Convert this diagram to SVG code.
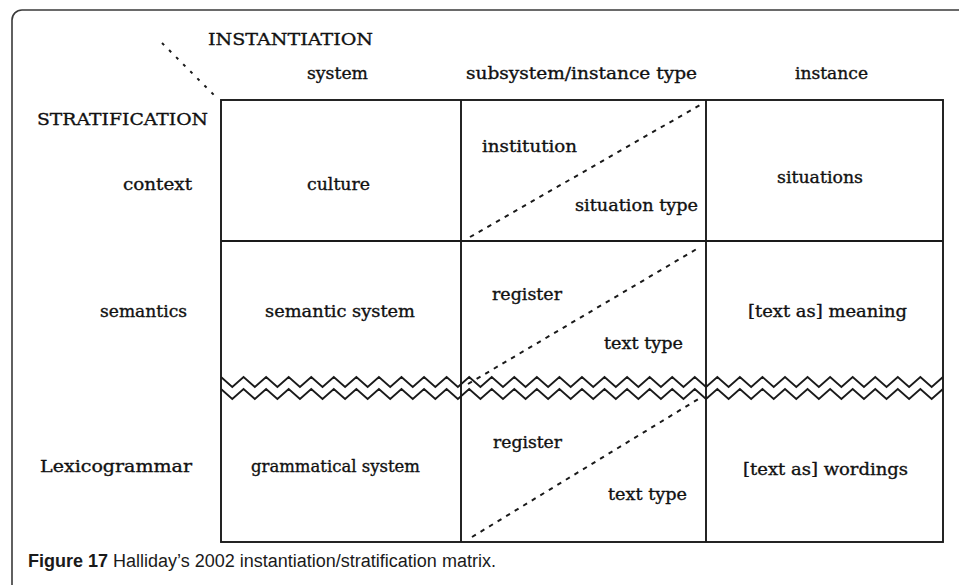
<svg xmlns="http://www.w3.org/2000/svg" width="959" height="585" viewBox="0 0 959 585">
  <style>
    .lbl { font-family: "DejaVu Serif", "Liberation Serif", serif; font-size: 17px; fill: #111; stroke: #111; stroke-width: 0.35; }
    .cap { font-size: 17.5px; }
    .grid { fill: none; stroke: #1a1a1a; stroke-width: 1.9; }
    .zig { fill: none; stroke: #1a1a1a; stroke-width: 1.8; stroke-linejoin: miter; }
    .dash { fill: none; stroke: #1a1a1a; stroke-width: 2; stroke-dasharray: 4.5 5.5; }
    .dots { fill: none; stroke: #1a1a1a; stroke-width: 2; stroke-dasharray: 3 7; }
    .caption { font-family: "Liberation Sans", Arial, sans-serif; font-size: 18px; fill: #1a1a1a; }
  </style>
  <defs>
    <clipPath id="matrixClip">
      <rect x="221" y="360" width="722" height="60"/>
    </clipPath>
  </defs>

  <!-- outer figure frame, running past the right and bottom edges -->
  <rect x="12" y="10" width="990" height="620" rx="10" ry="10" fill="#ffffff" stroke="#3a3a3a" stroke-width="1.6"/>

  <!-- matrix grid and boundaries -->
  <g id="connectors">
    <rect class="grid" x="221" y="100" width="722" height="442"/>
    <line class="grid" x1="461" y1="100" x2="461" y2="542"/>
    <line class="grid" x1="706" y1="100" x2="706" y2="542"/>
    <line class="grid" x1="221" y1="241" x2="943" y2="241"/>
    <!-- double zigzag between semantics and lexicogrammar -->
    <g clip-path="url(#matrixClip)">
      <path class="zig" d="M221,377 l11.28,10 l11.28,-10 l11.28,10 l11.28,-10 l11.28,10 l11.28,-10 l11.28,10 l11.28,-10 l11.28,10 l11.28,-10 l11.28,10 l11.28,-10 l11.28,10 l11.28,-10 l11.28,10 l11.28,-10 l11.28,10 l11.28,-10 l11.28,10 l11.28,-10 l11.28,10 l11.28,-10 l11.28,10 l11.28,-10 l11.28,10 l11.28,-10 l11.28,10 l11.28,-10 l11.28,10 l11.28,-10 l11.28,10 l11.28,-10 l11.28,10 l11.28,-10 l11.28,10 l11.28,-10 l11.28,10 l11.28,-10 l11.28,10 l11.28,-10 l11.28,10 l11.28,-10 l11.28,10 l11.28,-10 l11.28,10 l11.28,-10 l11.28,10 l11.28,-10 l11.28,10 l11.28,-10 l11.28,10 l11.28,-10 l11.28,10 l11.28,-10 l11.28,10 l11.28,-10 l11.28,10 l11.28,-10 l11.28,10 l11.28,-10 l11.28,10 l11.28,-10 l11.28,10 l11.28,-10"/>
      <path class="zig" d="M221,389 l11.28,10 l11.28,-10 l11.28,10 l11.28,-10 l11.28,10 l11.28,-10 l11.28,10 l11.28,-10 l11.28,10 l11.28,-10 l11.28,10 l11.28,-10 l11.28,10 l11.28,-10 l11.28,10 l11.28,-10 l11.28,10 l11.28,-10 l11.28,10 l11.28,-10 l11.28,10 l11.28,-10 l11.28,10 l11.28,-10 l11.28,10 l11.28,-10 l11.28,10 l11.28,-10 l11.28,10 l11.28,-10 l11.28,10 l11.28,-10 l11.28,10 l11.28,-10 l11.28,10 l11.28,-10 l11.28,10 l11.28,-10 l11.28,10 l11.28,-10 l11.28,10 l11.28,-10 l11.28,10 l11.28,-10 l11.28,10 l11.28,-10 l11.28,10 l11.28,-10 l11.28,10 l11.28,-10 l11.28,10 l11.28,-10 l11.28,10 l11.28,-10 l11.28,10 l11.28,-10 l11.28,10 l11.28,-10 l11.28,10 l11.28,-10 l11.28,10 l11.28,-10 l11.28,10 l11.28,-10"/>
    </g>
    <!-- dashed diagonals splitting the middle column -->
    <line class="dash" x1="470" y1="237" x2="700" y2="105"/>
    <line class="dash" x1="468" y1="384" x2="700" y2="247"/>
    <line class="dash" x1="472" y1="537" x2="700" y2="398"/>
    <!-- dotted corner line between the two axes -->
    <line class="dots" x1="162" y1="43" x2="216" y2="97"/>
  </g>

  <!-- axis titles -->
  <g id="axis-instantiation">
    <text class="lbl cap" x="208" y="45" textLength="165" lengthAdjust="spacingAndGlyphs">INSTANTIATION</text>
  </g>
  <g id="axis-stratification">
    <text class="lbl cap" x="37" y="125" textLength="171" lengthAdjust="spacingAndGlyphs">STRATIFICATION</text>
  </g>

  <!-- column headers -->
  <g id="col-system"><text class="lbl" x="307" y="79" textLength="61" lengthAdjust="spacingAndGlyphs">system</text></g>
  <g id="col-subsystem"><text class="lbl" x="466" y="79" textLength="231" lengthAdjust="spacingAndGlyphs">subsystem/instance type</text></g>
  <g id="col-instance"><text class="lbl" x="795" y="79" textLength="73" lengthAdjust="spacingAndGlyphs">instance</text></g>

  <!-- row headers -->
  <g id="row-context"><text class="lbl" x="123" y="190" textLength="69" lengthAdjust="spacingAndGlyphs">context</text></g>
  <g id="row-semantics"><text class="lbl" x="100" y="317" textLength="87" lengthAdjust="spacingAndGlyphs">semantics</text></g>
  <g id="row-lexicogrammar"><text class="lbl" x="40" y="472" textLength="152" lengthAdjust="spacingAndGlyphs">Lexicogrammar</text></g>

  <!-- context row -->
  <g id="cell-culture"><text class="lbl" x="307" y="190" textLength="63" lengthAdjust="spacingAndGlyphs">culture</text></g>
  <g id="cell-institution"><text class="lbl" x="482" y="152" textLength="95" lengthAdjust="spacingAndGlyphs">institution</text></g>
  <g id="cell-situation-type"><text class="lbl" x="575" y="211" textLength="123" lengthAdjust="spacingAndGlyphs">situation type</text></g>
  <g id="cell-situations"><text class="lbl" x="777" y="183" textLength="86" lengthAdjust="spacingAndGlyphs">situations</text></g>

  <!-- semantics row -->
  <g id="cell-semantic-system"><text class="lbl" x="265" y="317" textLength="150" lengthAdjust="spacingAndGlyphs">semantic system</text></g>
  <g id="cell-register-sem"><text class="lbl" x="492" y="300" textLength="70" lengthAdjust="spacingAndGlyphs">register</text></g>
  <g id="cell-text-type-sem"><text class="lbl" x="604" y="349" textLength="79" lengthAdjust="spacingAndGlyphs">text type</text></g>
  <g id="cell-meaning"><text class="lbl" x="748" y="317" textLength="159" lengthAdjust="spacingAndGlyphs">[text as] meaning</text></g>

  <!-- lexicogrammar row -->
  <g id="cell-grammatical-system"><text class="lbl" x="251" y="472" textLength="169" lengthAdjust="spacingAndGlyphs">grammatical system</text></g>
  <g id="cell-register-lex"><text class="lbl" x="493" y="448" textLength="69" lengthAdjust="spacingAndGlyphs">register</text></g>
  <g id="cell-text-type-lex"><text class="lbl" x="608" y="500" textLength="79" lengthAdjust="spacingAndGlyphs">text type</text></g>
  <g id="cell-wordings"><text class="lbl" x="743" y="475" textLength="165" lengthAdjust="spacingAndGlyphs">[text as] wordings</text></g>

  <!-- caption -->
  <text class="caption" x="28" y="567"><tspan font-weight="bold">Figure 17</tspan> Halliday’s 2002 instantiation/stratification matrix.</text>
</svg>
